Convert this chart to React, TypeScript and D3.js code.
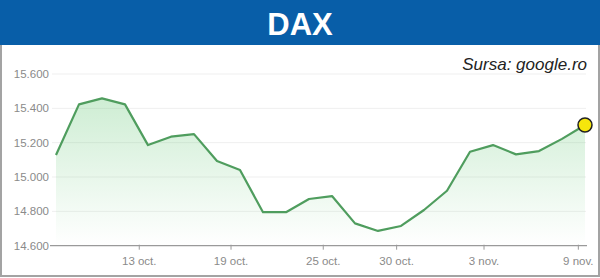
import React from "react";
import * as d3 from "d3";

const dates = [
  "9 oct.", "10 oct.", "11 oct.", "12 oct.", "13 oct.", "16 oct.", "17 oct.", "18 oct.",
  "19 oct.", "20 oct.", "23 oct.", "24 oct.", "25 oct.", "26 oct.", "27 oct.", "30 oct.",
  "31 oct.", "1 nov.", "2 nov.", "3 nov.", "6 nov.", "7 nov.", "8 nov.", "9 nov.",
];
const values = [
  15128, 15423, 15458, 15423, 15186, 15235, 15250, 15093,
  15041, 14795, 14795, 14872, 14889, 14730, 14686, 14715,
  14808, 14920, 15147, 15186, 15132, 15151, 15222, 15303,
];
const yTicks = [14600, 14800, 15000, 15200, 15400, 15600];
const xTickLabels = ["13 oct.", "19 oct.", "25 oct.", "30 oct.", "3 nov.", "9 nov."];
const xTickIndex = [3.62, 7.61, 11.62, 14.81, 18.61, 22.71];

const W = 600;
const H = 278;

export default function App() {
  const x = d3.scaleLinear().domain([0, values.length - 1]).range([56, 585]);
  const y = d3.scaleLinear().domain([14600, 15600]).range([245.7, 74]);
  const line = d3.line<number>().x((_, i) => x(i)).y((d) => y(d));
  const area = d3
    .area<number>()
    .x((_, i) => x(i))
    .y0(y(14600))
    .y1((d) => y(d));
  const fmt = (v: number) => d3.format(",")(v).replace(/,/g, ".") + "";
  const fmt3 = (v: number) => {
    const s = String(v);
    return s.slice(0, s.length - 3) + "." + s.slice(-3);
  };
  const font = "'Liberation Sans', Arial, sans-serif";
  const last = values.length - 1;
  return (
    <svg
      width={W}
      height={H}
      style={{ position: "fixed", left: 0, top: 0, background: "#fff" }}
      fontFamily={font}
    >
      <defs>
        <linearGradient id="g" x1="0" y1="0" x2="0" y2="1">
          <stop offset="0%" stopColor="#5cc46e" stopOpacity={0.3} />
          <stop offset="100%" stopColor="#5cc46e" stopOpacity={0} />
        </linearGradient>
      </defs>
      <rect x={0} y={0} width={W} height={H} fill="#fff" />
      <rect x={1} y={1} width={598} height={275} fill="none" stroke="#a3a3a3" strokeWidth={2} />
      <rect x={0} y={0} width={W} height={45} fill="#085ea8" />
      <text x={300} y={35} textAnchor="middle" fill="#fff" fontWeight="bold" fontSize={31}>
        DAX
      </text>
      <text x={587} y={70} textAnchor="end" fill="#222" fontStyle="italic" fontSize={17}>
        Sursa: google.ro
      </text>
      {yTicks.map((t) => (
        <g key={t}>
          {t > 14600 && (
            <line x1={52} x2={586} y1={y(t)} y2={y(t)} stroke="#efefef" strokeWidth={1} />
          )}
          <text x={49} y={y(t)} dy="0.35em" textAnchor="end" fill="#8a8a8a" fontSize={11.5}>
            {fmt3(t)}
          </text>
        </g>
      ))}
      <path d={area(values) || ""} fill="url(#g)" />
      <line x1={50} x2={587} y1={y(14600)} y2={y(14600)} stroke="#9a9a9a" strokeWidth={1.2} />
      {xTickIndex.map((ti, i) => (
        <g key={i}>
          <line x1={x(ti)} x2={x(ti)} y1={y(14600) - 1} y2={y(14600) + 4} stroke="#9a9a9a" />
          <text x={x(ti)} y={265} textAnchor="middle" fill="#8a8a8a" fontSize={11.5}>
            {xTickLabels[i]}
          </text>
        </g>
      ))}
      <path d={line(values) || ""} fill="none" stroke="#4f9d5e" strokeWidth={2.2} strokeLinejoin="round" />
      <circle cx={x(last)} cy={y(values[last])} r={7} fill="#f6e60c" stroke="#222" strokeWidth={1.5} />
    </svg>
  );
}
